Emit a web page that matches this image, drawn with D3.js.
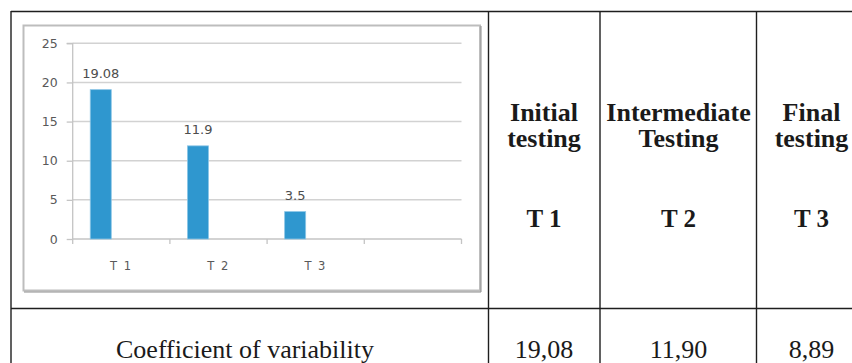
<!DOCTYPE html>
<html>
<head>
<meta charset="utf-8">
<script src="https://cdn.jsdelivr.net/npm/d3@7"></script>
<style>
  html, body { margin: 0; padding: 0; background: #fff; }
  svg { display: block; }
</style>
</head>
<body>
<svg id="chart" width="852" height="363"></svg>
<script>
// ---- data ----
const categories = ["T 1", "T 2", "T 3", ""];
const values = [19.08, 11.9, 3.5, null];
const yTicks = [0, 5, 10, 15, 20, 25];
const headerTitles = [["Initial", "testing"], ["Intermediate", "Testing"], ["Final", "testing"]];
const headerCodes = ["T 1", "T 2", "T 3"];
const rowLabel = "Coefficient of variability";
const rowValues = ["19,08", "11,90", "8,89"];

const svg = d3.select("#chart");
svg.append("rect").attr("width", 852).attr("height", 363).attr("fill", "#fff");

// ---- table grid ----
const colEdges = [11, 488.5, 600, 756.5, 866];
const rowEdges = [11, 308.5, 400];
const lineColor = "#1e1e1e";
const tbl = svg.append("g");
tbl.append("line").attr("x1", 11).attr("x2", 852).attr("y1", 11.5).attr("y2", 11.5)
  .attr("stroke", lineColor).attr("stroke-width", 1.4);
tbl.append("line").attr("x1", 11).attr("x2", 852).attr("y1", rowEdges[1]).attr("y2", rowEdges[1])
  .attr("stroke", lineColor).attr("stroke-width", 1.4);
colEdges.slice(0, 4).forEach(x => {
  tbl.append("line").attr("x1", x).attr("x2", x).attr("y1", 11).attr("y2", 363)
    .attr("stroke", lineColor).attr("stroke-width", 1.4);
});

// header cells
const colCenters = [544, 678.5, 811.5];
headerTitles.forEach((lines, i) => {
  lines.forEach((t, j) => {
    tbl.append("text").attr("x", colCenters[i]).attr("y", 120.5 + j * 26.5)
      .attr("text-anchor", "middle")
      .attr("font-family", "Liberation Serif, Times New Roman, serif")
      .attr("font-weight", "bold").attr("font-size", 26).attr("fill", "#1a1a1a")
      .text(t);
  });
  tbl.append("text").attr("x", colCenters[i]).attr("y", 226.7)
    .attr("text-anchor", "middle")
    .attr("font-family", "Liberation Serif, Times New Roman, serif")
    .attr("font-weight", "bold").attr("font-size", 25).attr("fill", "#1a1a1a")
    .text(headerCodes[i]);
});

// body row
tbl.append("text").attr("x", 245).attr("y", 358.3).attr("text-anchor", "middle")
  .attr("font-family", "Liberation Serif, Times New Roman, serif")
  .attr("font-size", 26).attr("fill", "#1a1a1a").text(rowLabel);
rowValues.forEach((v, i) => {
  tbl.append("text").attr("x", colCenters[i]).attr("y", 358.3).attr("text-anchor", "middle")
    .attr("font-family", "Liberation Serif, Times New Roman, serif")
    .attr("font-size", 26).attr("fill", "#1a1a1a").text(v);
});

// ---- embedded chart ----
const frame = svg.append("g");
frame.append("rect").attr("x", 23.5).attr("y", 25.5).attr("width", 456.5).attr("height", 265)
  .attr("fill", "#fff").attr("stroke", "#bdbdbd").attr("stroke-width", 2);
frame.append("path").attr("d", "M481,26V292H24")
  .attr("fill", "none").attr("stroke", "#8c8c8c").attr("stroke-width", 1);

const plotL = 72.7, plotR = 461.5, plotT = 43.3, plotB = 239;
const x0 = d3.scaleBand().domain(categories).range([plotL, plotR]).padding(0);
const x1 = d3.scaleBand().domain([0, 1]).range([0, x0.bandwidth()])
  .paddingInner(0.488).paddingOuter(0.427);
const y = d3.scaleLinear().domain([0, 25]).range([plotB, plotT]);

const fontSans = "DejaVu Sans, Verdana, sans-serif";
const g = svg.append("g");

// gridlines
g.selectAll(".grid").data(yTicks.filter(d => d > 0)).join("line")
  .attr("x1", plotL).attr("x2", plotR)
  .attr("y1", d => y(d)).attr("y2", d => y(d))
  .attr("stroke", "#d2d2d2").attr("stroke-width", 1.5);

// y axis
const yAxis = d3.axisLeft(y).tickValues(yTicks).tickSize(6).tickPadding(9);
const ya = g.append("g").attr("transform", `translate(${plotL},0)`).call(yAxis);
ya.select(".domain").attr("stroke", "#c4c4c4").attr("stroke-width", 1.3)
  .attr("d", `M-6,${plotT}H0V${plotB}`);
ya.selectAll(".tick line").attr("stroke", "#c4c4c4").attr("stroke-width", 1.3);
ya.selectAll(".tick text").attr("font-family", fontSans).attr("font-size", 12.5)
  .attr("fill", "#595959");

// x axis
const xa = g.append("g").attr("transform", `translate(0,${plotB})`);
xa.append("line").attr("x1", plotL).attr("x2", plotR).attr("y1", 0).attr("y2", 0)
  .attr("stroke", "#c4c4c4").attr("stroke-width", 1.5);
const boundaries = categories.map(c => x0(c)).concat([plotR]);
xa.selectAll(".xt").data(boundaries).join("line")
  .attr("x1", d => d).attr("x2", d => d).attr("y1", 0).attr("y2", 5)
  .attr("stroke", "#c4c4c4").attr("stroke-width", 1.3);
xa.selectAll(".xl").data(categories).join("text")
  .attr("x", d => x0(d) + x0.bandwidth() / 2).attr("y", 30.5)
  .attr("text-anchor", "middle").attr("font-family", fontSans).attr("font-size", 11.5)
  .attr("fill", "#595959").attr("letter-spacing", 1.5)
  .text(d => d);

// bars
const barData = categories.map((c, i) => ({ c, v: values[i] })).filter(d => d.v != null);
g.selectAll(".bar").data(barData).join("rect")
  .attr("x", d => x0(d.c) + x1(0))
  .attr("width", x1.bandwidth())
  .attr("y", d => y(d.v))
  .attr("height", d => y(0) - y(d.v))
  .attr("fill", "#2f97cf").attr("stroke", "#8cc6e6").attr("stroke-width", 0.8);

// value labels
g.selectAll(".lbl").data(barData).join("text")
  .attr("x", d => x0(d.c) + x1(0) + x1.bandwidth() / 2)
  .attr("y", d => y(d.v) - 11.5)
  .attr("text-anchor", "middle").attr("font-family", fontSans).attr("font-size", 13)
  .attr("fill", "#4d4d4d")
  .text(d => String(d.v));
</script>
</body>
</html>
